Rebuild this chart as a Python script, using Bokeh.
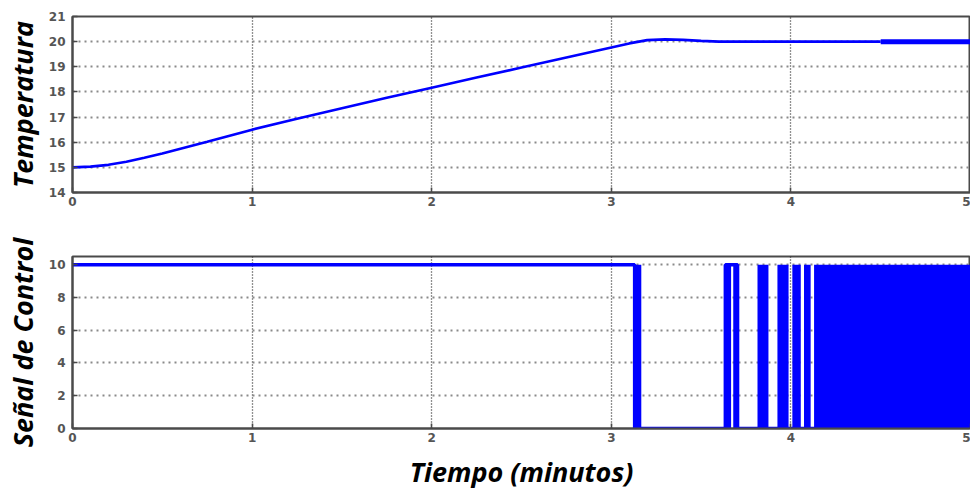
from bokeh.plotting import figure
from bokeh.layouts import column
from bokeh.models import Range1d, FixedTicker
from bokeh.embed import file_html
from bokeh.resources import INLINE

# ---------------- data ----------------
time_min = [0.0, 0.1, 0.2, 0.3, 0.4, 0.5, 0.75, 1.0, 1.25, 1.5, 1.75, 2.0,
            2.25, 2.5, 2.75, 3.0, 3.1, 3.2, 3.3, 3.4, 3.5, 3.6, 4.0, 4.5]
temperature = [15.0, 15.03, 15.1, 15.22, 15.38, 15.55, 16.02, 16.5, 16.93, 17.35,
               17.77, 18.17, 18.57, 18.97, 19.37, 19.77, 19.93, 20.06, 20.09,
               20.07, 20.03, 20.0, 20.0, 20.0]
# segment where the temperature chatters around the set point
temp_chatter_t = [4.5, 5.0]
temp_chatter_T = [20.0, 20.0]

# control signal: step levels
ctrl_t = [0.0, 3.13, 3.635, 3.703, 5.0]
ctrl_u = [10, 0, 10, 0, 0]
# intervals of rapid switching (drawn as solid blocks)
chatter_start = [3.130, 3.635, 3.679, 3.814, 3.925, 4.008, 4.073, 4.129]
chatter_end   = [3.167, 3.667, 3.703, 3.875, 3.987, 4.055, 4.110, 5.000]

x_ticks = [0, 1, 2, 3, 4, 5]
temp_ticks = [14, 15, 16, 17, 18, 19, 20, 21]
ctrl_ticks = [0, 2, 4, 6, 8, 10]

BLUE = "#0000ff"
FRAME = "#4a4a4a"
TICK_FONT = "DejaVu Sans"
LABEL_FONT = "Open Sans"


def style(p, yticks):
    p.outline_line_color = FRAME
    p.outline_line_width = 2
    p.background_fill_color = "white"
    p.border_fill_color = "white"
    for ax in (p.xaxis[0], p.yaxis[0]):
        ax.axis_line_color = FRAME
        ax.axis_line_width = 2
        ax.major_tick_in = 5
        ax.major_tick_out = 0
        ax.major_tick_line_color = FRAME
        ax.major_tick_line_width = 1.5
        ax.minor_tick_line_color = None
        ax.major_label_text_font = TICK_FONT
        ax.major_label_text_font_style = "bold"
        ax.major_label_text_font_size = "12px"
        ax.major_label_text_color = "#555555"
        ax.axis_label_text_font = LABEL_FONT
        ax.axis_label_text_font_style = "bold italic"
        ax.axis_label_text_font_size = "27px"
        ax.axis_label_text_color = "#000000"
    p.xaxis[0].ticker = FixedTicker(ticks=x_ticks)
    p.yaxis[0].ticker = FixedTicker(ticks=yticks)
    p.xaxis[0].major_label_standoff = 4
    p.yaxis[0].major_label_standoff = 7
    p.yaxis[0].axis_label_standoff = 5
    p.yaxis[0].axis_label_text_baseline = "top"
    p.xgrid.grid_line_color = "#222222"
    p.xgrid.grid_line_dash = "1 2"
    p.xgrid.grid_line_width = 1.3
    p.ygrid.grid_line_color = "#8a8a8a"
    p.ygrid.grid_line_dash = "2 4"
    p.ygrid.grid_line_width = 1.8


# ---------------- top: temperature ----------------
p1 = figure(width=970, height=222, output_backend="svg",
            toolbar_location=None, x_range=Range1d(0, 5), y_range=Range1d(14, 21),
            min_border_left=71, min_border_right=0, min_border_top=16,
            min_border_bottom=30)
style(p1, temp_ticks)
p1.yaxis[0].axis_label = "Temperatura"
p1.line(time_min, temperature, line_color=BLUE, line_width=2.6)
p1.line([time_min[-1], temp_chatter_t[0]], [temperature[-1], temp_chatter_T[0]],
        line_color=BLUE, line_width=2.6)
p1.line(temp_chatter_t, temp_chatter_T, line_color=BLUE, line_width=5)

# ---------------- bottom: control signal ----------------
p2 = figure(width=970, height=270, output_backend="svg",
            toolbar_location=None, x_range=Range1d(0, 5), y_range=Range1d(0, 10.5),
            min_border_left=71, min_border_right=0, min_border_top=34,
            min_border_bottom=61)
style(p2, ctrl_ticks)
p2.yaxis[0].axis_label = "Señal de Control"
p2.xaxis[0].axis_label = "Tiempo (minutos)"
p2.xaxis[0].axis_label_standoff = 8
p2.step(ctrl_t, ctrl_u, mode="after", line_color=BLUE, line_width=3.5)
p2.quad(left=chatter_start, right=chatter_end, bottom=0, top=10,
        fill_color=BLUE, line_color=None)

layout = column(p1, p2, spacing=0)
open("out.html", "w").write(file_html(layout, INLINE))
